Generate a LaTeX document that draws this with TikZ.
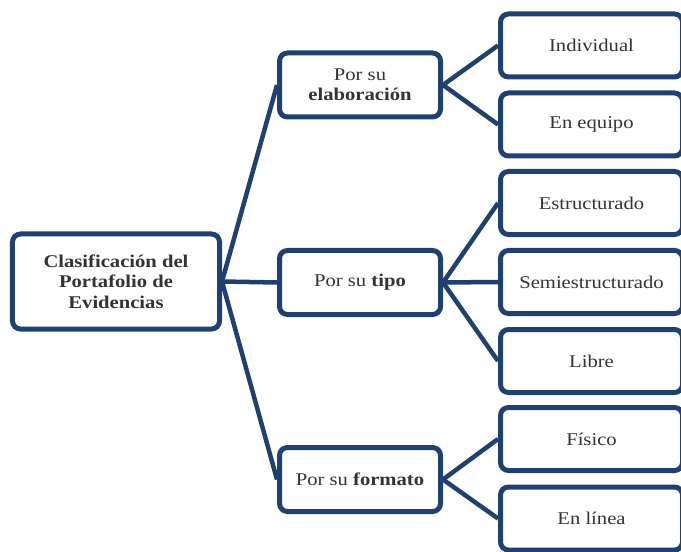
\documentclass[tikz,border=0pt]{standalone}
\usepackage{fontspec}
\setmainfont{Liberation Serif}[FakeStretch=1.15]
\definecolor{navy}{HTML}{1F4170}
\definecolor{txt}{HTML}{333333}
\begin{document}
\begin{tikzpicture}[x=1bp,y=-1bp,
  box/.style={draw=navy,line width=5bp,rounded corners=8bp,fill=white,text=txt,align=center,font=\fontsize{18}{20.5}\selectfont,inner sep=0pt},
  rootbox/.style={box,minimum width=207bp,minimum height=95bp},
  midbox/.style={box,minimum width=161bp,minimum height=64bp},
  leafbox/.style={box,minimum width=182bp,minimum height=63bp},
  link/.style={draw=navy,line width=4.5bp}]
\useasboundingbox (0,0) rectangle (681,552);
\clip (0,0) rectangle (681,552);
\node[rootbox] (root) at (116,281.5) {\textbf{Clasificación del}\\\textbf{Portafolio de}\\\textbf{Evidencias}};
\node[midbox] (m1) at (360,85) {Por su\\\textbf{elaboración}};
\node[midbox] (m2) at (360,282.5) {Por su \textbf{tipo}};
\node[midbox] (m3) at (360,479.5) {Por su \textbf{formato}};
\node[leafbox] (l1) at (591.5,45.5) {Individual};
\node[leafbox] (l2) at (591.5,124.5) {En equipo};
\node[leafbox] (l3) at (591.5,203) {Estructurado};
\node[leafbox] (l4) at (591.5,282) {Semiestructurado};
\node[leafbox] (l5) at (591.5,361) {Libre};
\node[leafbox] (l6) at (591.5,439) {Físico};
\node[leafbox] (l7) at (591.5,518.5) {En línea};
\foreach \m in {m1,m2,m3} \draw[link] (root.east) -- (\m.west);
\foreach \l in {l1,l2} \draw[link] (m1.east) -- (\l.west);
\foreach \l in {l3,l4,l5} \draw[link] (m2.east) -- (\l.west);
\foreach \l in {l6,l7} \draw[link] (m3.east) -- (\l.west);
\end{tikzpicture}
\end{document}
